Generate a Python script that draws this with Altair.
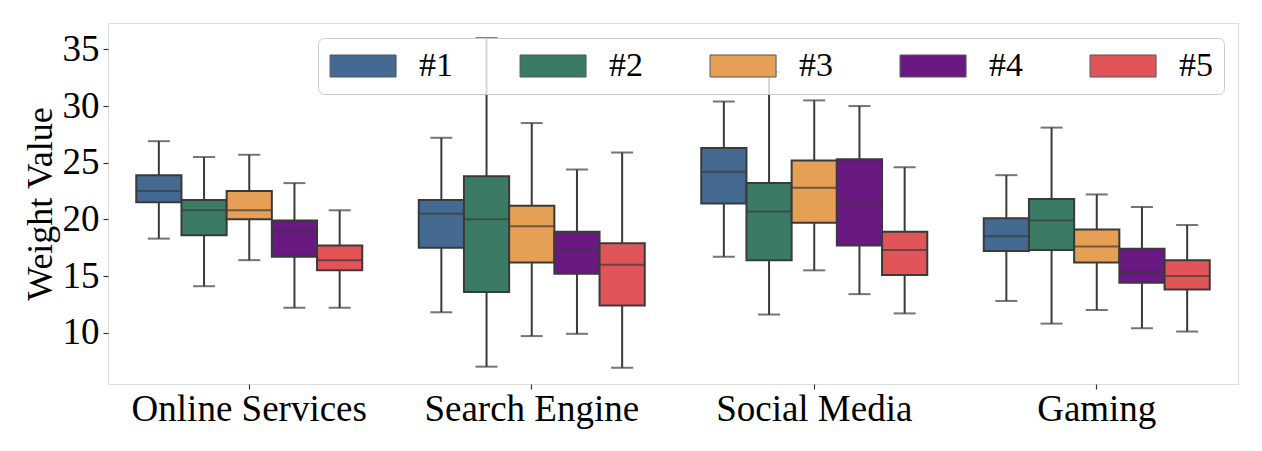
import altair as alt
import pandas as pd

categories = ["Online Services", "Search Engine", "Social Media", "Gaming"]
groups = ["#1", "#2", "#3", "#4", "#5"]
colors = ["#456a91", "#3b7b66", "#e6a055", "#6a1982", "#e15457"]

# per category: values for #1..#5
low = [
    [18.3, 14.1, 16.4, 12.2, 12.2],
    [11.8, 7.0, 9.7, 9.9, 6.9],
    [16.7, 11.6, 15.5, 13.4, 11.7],
    [12.8, 10.8, 12.0, 10.4, 10.1],
]
q1 = [
    [21.5, 18.6, 20.0, 16.7, 15.5],
    [17.5, 13.6, 16.2, 15.2, 12.4],
    [21.4, 16.4, 19.7, 17.7, 15.1],
    [17.2, 17.3, 16.2, 14.4, 13.8],
]
median = [
    [22.5, 20.8, 20.8, 19.0, 16.4],
    [20.5, 20.0, 19.4, 17.3, 16.0],
    [24.2, 20.7, 22.8, 21.4, 17.3],
    [18.5, 19.9, 17.6, 15.3, 15.0],
]
q3 = [
    [23.9, 21.7, 22.5, 19.9, 17.7],
    [21.7, 23.8, 21.2, 18.9, 17.9],
    [26.3, 23.2, 25.2, 25.3, 18.9],
    [20.1, 21.8, 19.1, 17.4, 16.4],
]
high = [
    [26.9, 25.5, 25.7, 23.2, 20.8],
    [27.2, 36.0, 28.5, 24.4, 25.9],
    [30.4, 33.0, 30.5, 30.0, 24.6],
    [23.9, 28.1, 22.2, 21.1, 19.5],
]

rows = []
for ci, c in enumerate(categories):
    for gi, g in enumerate(groups):
        rows.append(dict(category=c, group=g, low=low[ci][gi], q1=q1[ci][gi],
                         median=median[ci][gi], q3=q3[ci][gi], high=high[ci][gi]))
df = pd.DataFrame(rows)

FONT = "Liberation Serif"
EDGE = "#3a3a3a"

x = alt.X("category:N", sort=categories, title=None,
          scale=alt.Scale(paddingInner=0.2, paddingOuter=0.1),
          axis=alt.Axis(labelAngle=0, labelFont=FONT, labelFontSize=37, labelColor="black",
                        labelLimit=0, domain=False, tickColor="#333333", tickSize=5,
                        tickWidth=1.2, labelPadding=2))
xo = alt.XOffset("group:N", sort=groups, scale=alt.Scale(paddingInner=0, paddingOuter=0))
yscale = alt.Scale(domain=[5.47, 37.33], nice=False, zero=False)
yaxis = alt.Axis(values=[10, 15, 20, 25, 30, 35], grid=False, domain=False,
                 labelFont=FONT, labelFontSize=37, labelColor="black",
                 titleFont=FONT, titleFontSize=36, titleFontWeight="normal", titleColor="black",
                 tickColor="#333333", tickSize=5, tickWidth=1.2, labelPadding=4, titlePadding=3)

base = alt.Chart(df)

whisker = base.mark_rule(color=EDGE, strokeWidth=2).encode(
    x=x, xOffset=xo,
    y=alt.Y("low:Q", scale=yscale, axis=yaxis, title="Weight Value"),
    y2="high:Q",
)
cap_low = base.mark_tick(color=EDGE, size=22, thickness=2, orient="horizontal").encode(
    x=x, xOffset=xo, y=alt.Y("low:Q", scale=yscale))
cap_high = base.mark_tick(color=EDGE, size=22, thickness=2, orient="horizontal").encode(
    x=x, xOffset=xo, y=alt.Y("high:Q", scale=yscale))
box = base.mark_bar(stroke=EDGE, strokeWidth=2, opacity=1).encode(
    x=x, xOffset=xo,
    y=alt.Y("q1:Q", scale=yscale),
    y2="q3:Q",
    color=alt.Color("group:N", sort=groups,
                    scale=alt.Scale(domain=groups, range=colors),
                    legend=alt.Legend(
                        title=None, orient="none", legendX=210, legendY=15,
                        direction="horizontal", columns=5,
                        symbolType="M-1.45,-1H4.55V1H-1.45Z", symbolSize=484,
                        symbolStrokeColor="#555555", symbolStrokeWidth=1, symbolOpacity=1,
                        labelFont=FONT, labelFontSize=34, labelColor="black",
                        labelOffset=56, columnPadding=65, padding=11,
                        fillColor="rgba(255,255,255,0.8)", strokeColor="#cccccc",
                        cornerRadius=6)),
)
med = base.mark_tick(color=EDGE, size=45, thickness=2, orient="horizontal").encode(
    x=x, xOffset=xo, y=alt.Y("median:Q", scale=yscale))

chart = alt.layer(whisker, cap_low, cap_high, box, med).properties(
    width=1130, height=361,
    autosize=alt.AutoSizeParams(type="none"),
    padding={"left": 100, "top": 15, "right": 16, "bottom": 59},
).configure_view(stroke="#262626", strokeWidth=1.5).configure(background="white")

chart.save("out.html", embed_options={"renderer": "svg", "actions": False})
